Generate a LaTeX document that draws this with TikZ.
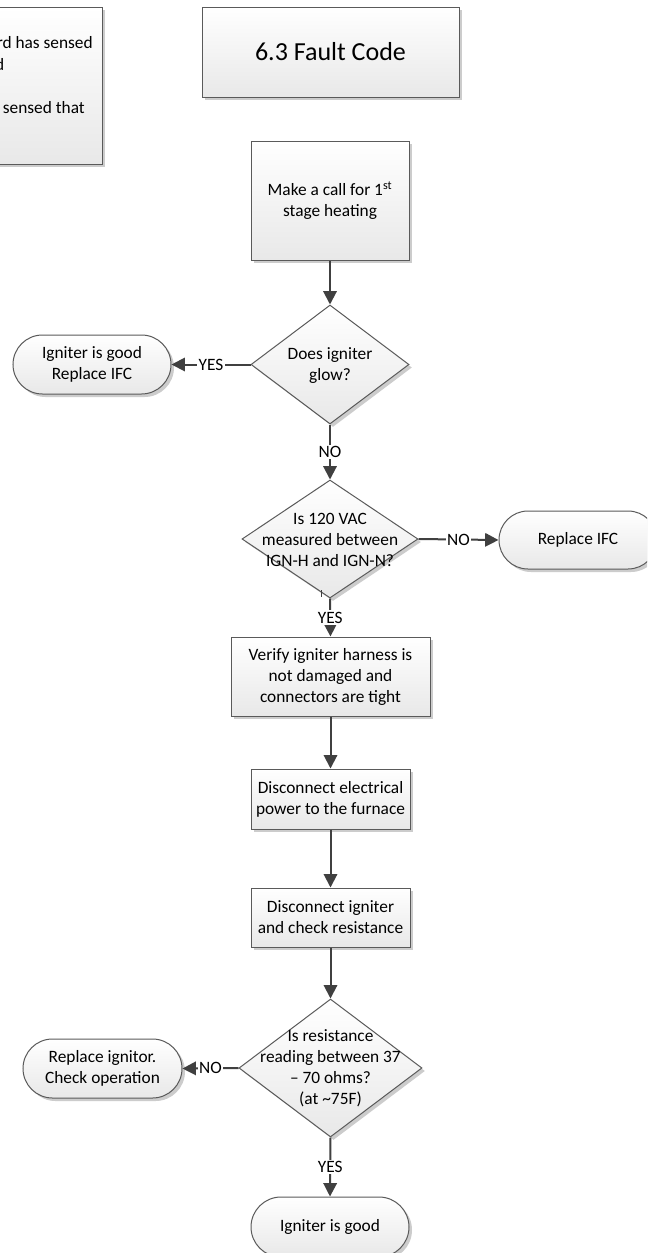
\documentclass[tikz,border=0pt]{standalone}
\usepackage{fontspec}
\setmainfont{Carlito}
\usetikzlibrary{arrows.meta,shapes.geometric,shapes.misc,shadows}
\newcommand{\bodyf}{\fontsize{13}{15.75}\selectfont}
\newcommand{\titlef}{\fontsize{19.5}{23}\selectfont}
\definecolor{edge}{HTML}{5A5A5A}
\definecolor{wire}{HTML}{404040}
\begin{document}
\begin{tikzpicture}[x=0.75pt,y=-0.75pt,
  shape base/.style={draw=edge, line width=0.75pt, top color=white, bottom color=black!9,
    inner sep=0pt, font=\bodyf, align=center,
    drop shadow={shadow xshift=2.25pt, shadow yshift=-2.25pt, fill=black!20, draw=none, opacity=1}},
  procbox/.style={shape base, rectangle},
  decision/.style={shape base, diamond},
  terminal/.style={shape base, rounded rectangle},
  dtext/.style={font=\bodyf, align=center, inner sep=0pt},
  frag/.style={font=\bodyf, inner sep=0pt, anchor=base east},
  conn/.style={draw=wire, line width=1.5pt, -{Triangle[length=10pt,width=10pt]}},
  lbl/.style={fill=white, inner sep=1pt, font=\bodyf},
]
\fill[white] (0,0) rectangle (647,1253);
\useasboundingbox (0,0) rectangle (647,1253);
\clip (0,0) rectangle (647,1253);

% partial box at top left
\node[procbox, minimum width=189pt, minimum height=117.75pt] (lbox) at (-24,85.5) {};
\node[frag] (lt1) at (93,48.5) {rd has sensed};
\node[frag] (lt2) at (4.5,70.5) {d};
\node[frag] (lt3) at (85,113.5) {sensed that};

% title
\node[procbox, minimum width=192.75pt, minimum height=67.5pt, font=\titlef] (title) at (330.5,52) {6.3 Fault Code};

% main column
\node[procbox, minimum width=118.5pt, minimum height=89.25pt] (b1) at (330,200.5)
  {Make a call for 1\textsuperscript{st}\\stage heating};

\node[decision, minimum width=118.5pt, minimum height=89.25pt] (d1) at (330,364.5) {};
\node[dtext] (d1t) at (330,365.5) {Does igniter\\glow?};

\node[terminal, minimum width=118.5pt, minimum height=44.25pt] (t1) at (92,364.5) {Igniter is good\\Replace IFC};

\node[decision, minimum width=132pt, minimum height=88.5pt] (d2) at (330,539) {};
\node[dtext] (d2t) at (330,540) {Is 120 VAC\\measured between\\IGN-H and IGN-N?};

\node[terminal, minimum width=118.5pt, minimum height=43.5pt] (t2) at (578,540) {Replace IFC};

\node[procbox, minimum width=149.25pt, minimum height=59.25pt] (b3) at (330.5,676.5)
  {Verify igniter harness is\\not damaged and\\connectors are tight};

\node[procbox, minimum width=119.25pt, minimum height=45pt] (b4) at (330.5,799)
  {Disconnect electrical\\power to the furnace};

\node[procbox, minimum width=119.25pt, minimum height=44.25pt] (b5) at (330.5,917.5)
  {Disconnect igniter\\and check resistance};

\node[decision, minimum width=137.25pt, minimum height=103.5pt] (d3) at (330.5,1068) {};
\node[dtext] (d3t) at (330.5,1068.5) {Is resistance\\reading between 37\\\textendash{} 70 ohms?\\(at \textasciitilde75F)};

\node[terminal, minimum width=119.25pt, minimum height=44.25pt] (t3) at (102.5,1068.5) {Replace ignitor.\\Check operation};

\node[terminal, minimum width=118.5pt, minimum height=45pt] (t4) at (330,1227) {Igniter is good};

% connectors
\draw[conn] (b1.south) -- (d1.north);
\draw[conn] (d1.west) -- node[lbl] (l1) {YES} (t1.east);
\draw[conn] (d1.south) -- node[lbl] (l2) {NO} (d2.north);
\draw[conn] (d2.east) -- node[lbl] (l3) {NO} (t2.west);
\draw[conn] (d2.south) -- node[lbl] (l4) {YES} (b3.north);
\draw[conn] (b3.south) -- (b4.north);
\draw[conn] (b4.south) -- (b5.north);
\draw[conn] (b5.south) -- (d3.north);
\draw[conn] (d3.west) -- node[lbl] (l5) {NO} (t3.east);
\draw[conn] (d3.south) -- node[lbl] (l6) {YES} (t4.north);

% small stray tick under the second decision
\coordinate (tk1) at (321,590);
\coordinate (tk2) at (321,597);
\draw[wire, line width=0.75pt] (tk1) -- (tk2);
\end{tikzpicture}
\end{document}
